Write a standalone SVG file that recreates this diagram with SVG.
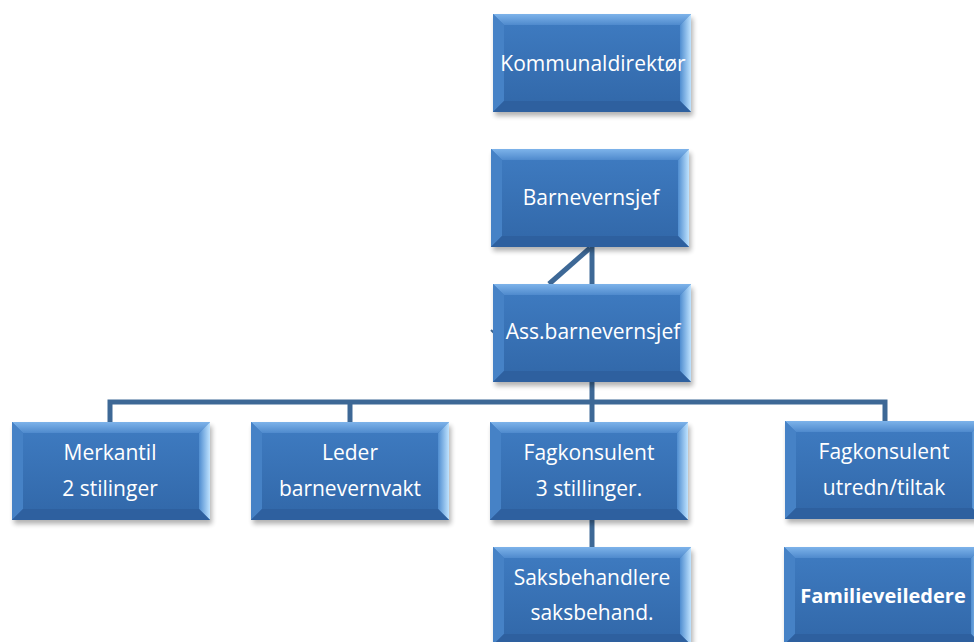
<svg xmlns="http://www.w3.org/2000/svg" xmlns:xlink="http://www.w3.org/1999/xlink" width="974" height="642" viewBox="0 0 974 642">
<style>
.t{font-family:"Open Sans","Noto Sans",sans-serif;font-size:21px;fill:#ffffff;text-anchor:middle}
.b{font-weight:bold;font-size:20px}
.c{fill:none;stroke:#3d6896;stroke-width:5;stroke-linejoin:miter}
</style>
<defs>
<linearGradient id="face" x1="0" y1="0" x2="0" y2="1">
<stop offset="0" stop-color="#3f7cc2"/>
<stop offset="1" stop-color="#3167a8"/>
</linearGradient>
<linearGradient id="topb" x1="0" y1="0" x2="0" y2="1">
<stop offset="0" stop-color="#7db3ea"/>
<stop offset="1" stop-color="#4f8acd"/>
</linearGradient>
<linearGradient id="rightb" x1="0" y1="0" x2="1" y2="0">
<stop offset="0" stop-color="#4f8dd0"/>
<stop offset="1" stop-color="#bfe3ff"/>
</linearGradient>
<filter id="sh" x="-10%" y="-10%" width="120%" height="130%">
<feGaussianBlur stdDeviation="2.5"/>
</filter>
<g id="box">
<rect x="2" y="4" width="198" height="98" fill="#000" opacity="0.3" filter="url(#sh)"/>
<rect x="0" y="0" width="198" height="98" fill="url(#face)"/>
<polygon points="0,0 198,0 187,11 11,11" fill="url(#topb)"/>
<polygon points="0,0 11,11 11,87 0,98" fill="#4682c6"/>
<polygon points="198,0 198,98 187,87 187,11" fill="url(#rightb)"/>
<polygon points="0,98 11,87 187,87 198,98" fill="#2e609f"/>
</g>
</defs>
<g id="connectors">
<line class="c" x1="592" y1="246" x2="592" y2="285"/>
<line class="c" x1="590" y1="248" x2="549" y2="284"/>
<line class="c" x1="491" y1="330" x2="494" y2="333" style="stroke-width:2"/>
<line class="c" x1="592" y1="380" x2="592" y2="424"/>
<polyline class="c" points="110,424 110,402 885,402 885,424"/>
<line class="c" x1="350" y1="402" x2="350" y2="424"/>
<line class="c" x1="592" y1="520" x2="592" y2="549"/>
</g>
<g id="kommunaldirektor">
<use xlink:href="#box" x="493" y="14"/>
<text class="t" x="593" y="71">Kommunaldirektør</text>
</g>
<g id="barnevernsjef">
<use xlink:href="#box" x="491" y="149"/>
<text class="t" x="591" y="205">Barnevernsjef</text>
</g>
<g id="ass-barnevernsjef">
<use xlink:href="#box" x="493" y="284"/>
<text class="t" x="593" y="339">Ass.barnevernsjef</text>
</g>
<g id="merkantil">
<use xlink:href="#box" x="12" y="422"/>
<text class="t" x="110" y="460">Merkantil</text>
<text class="t" x="110" y="496">2 stilinger</text>
</g>
<g id="leder">
<use xlink:href="#box" x="251" y="422"/>
<text class="t" x="350" y="460">Leder</text>
<text class="t" x="350" y="496">barnevernvakt</text>
</g>
<g id="fagkonsulent-3">
<use xlink:href="#box" x="490" y="422"/>
<text class="t" x="589" y="460">Fagkonsulent</text>
<text class="t" x="589" y="496">3 stillinger.</text>
</g>
<g id="fagkonsulent-utredn">
<use xlink:href="#box" x="785" y="421"/>
<text class="t" x="884" y="459">Fagkonsulent</text>
<text class="t" x="884" y="495">utredn/tiltak</text>
</g>
<g id="saksbehandlere">
<use xlink:href="#box" x="493" y="547"/>
<text class="t" x="592" y="585">Saksbehandlere</text>
<text class="t" x="592" y="620">saksbehand.</text>
</g>
<g id="familieveiledere">
<use xlink:href="#box" x="784" y="547"/>
<text class="t b" x="883" y="603">Familieveiledere</text>
</g>
</svg>
